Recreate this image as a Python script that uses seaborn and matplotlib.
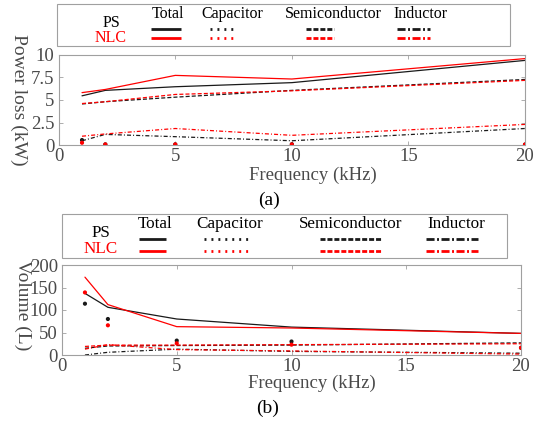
import matplotlib
matplotlib.use("Agg")
import matplotlib.pyplot as plt
import pandas as pd
import seaborn as sns
from matplotlib.patches import Rectangle

# ---- data -------------------------------------------------------------
freq_khz = [1, 2, 5, 10, 20]

# (a) power loss, kW
loss_total_ps = [5.45, 6.05, 6.45, 6.9, 9.35]
loss_total_nlc = [5.8, 6.15, 7.7, 7.3, 9.55]
loss_cap_ps = [0.58, 0.1, 0.1, 0.12, 0.08]
loss_cap_nlc = [0.28, 0.1, 0.1, 0.1, 0.08]
loss_semi_ps = [4.55, 4.8, 5.3, 6.05, 7.25]
loss_semi_nlc = [4.6, 4.8, 5.6, 6.0, 7.15]
loss_ind_ps = [0.5, 1.2, 0.95, 0.5, 1.85]
loss_ind_nlc = [1.0, 1.25, 1.85, 1.1, 2.3]

# (b) volume, L
vol_total_ps = [137, 106, 80, 62, 48]
vol_total_nlc = [173, 112, 63, 60, 48]
vol_cap_ps = [114, 80, 32, 30, 16]
vol_cap_nlc = [139, 66, 26, 23, 16]
vol_semi_ps = [15, 20, 21, 22, 27]
vol_semi_nlc = [19, 22, 22, 23, 25]
vol_ind_ps = [0, 6, 13, 8, 4]
vol_ind_nlc = [13, 23, 12, 9, 2]

systems = ["PS", "NLC"]
components = ["Total", "Capacitor", "Semiconductor", "Inductor"]
x_ticks = [0, 5, 10, 15, 20]
loss_ticks = [0, 2.5, 5, 7.5, 10]
loss_tick_labels = ["0", "2.5", "5", "7.5", "10"]
vol_ticks = [0, 50, 100, 150, 200]

# ---- styling ----------------------------------------------------------
sns.set_theme(style="ticks")
plt.rcParams["font.family"] = ["Liberation Serif", "DejaVu Serif"]
plt.rcParams["lines.scale_dashes"] = False

BLACK = "#1a1a1a"
RED = "#ff0000"
GRAY_SPINE = "#a0a0a0"
GRAY_TEXT = "#4a4a4a"
palette = {"PS": BLACK, "NLC": RED}
dash_map = {"Total": "", "Semiconductor": (2.9, 1.5), "Inductor": (2.9, 1.5, 0.7, 1.5)}

W, H = 538, 425
fig = plt.figure(figsize=(W / 100, H / 100), dpi=100)


def px_axes(left, top, right, bottom):
    return fig.add_axes([left / W, 1 - bottom / H, (right - left) / W, (bottom - top) / H])


def long_table(series):
    rows = []
    for (system, comp), vals in series.items():
        for f, v in zip(freq_khz, vals):
            rows.append({"freq": f, "value": v, "system": system, "component": comp})
    return pd.DataFrame(rows)


def draw_panel(ax, series, yticks, yticklabels, ymax, ylabel, ylabel_y, xlabel_y):
    df = long_table(series)
    lines = df[df["component"] != "Capacitor"]
    sns.lineplot(data=lines, x="freq", y="value", hue="system", style="component",
                 palette=palette, dashes=dash_map, hue_order=systems,
                 style_order=["Total", "Semiconductor", "Inductor"],
                 linewidth=0.9, legend=False, ax=ax, estimator=None, sort=False)
    caps = df[df["component"] == "Capacitor"]
    sns.scatterplot(data=caps, x="freq", y="value", hue="system", palette=palette,
                    hue_order=systems, s=9, linewidth=0, legend=False, ax=ax, zorder=5)
    ax.set_xlim(0, 20)
    ax.set_ylim(0, ymax)
    ax.set_xticks(x_ticks)
    ax.set_yticks(yticks)
    ax.set_yticklabels(yticklabels)
    ax.tick_params(direction="in", length=3, width=0.6, color=GRAY_SPINE,
                   labelcolor=GRAY_TEXT, labelsize=13.5, top=True, right=True)
    ax.tick_params(axis="x", pad=2)
    ax.tick_params(axis="y", pad=3)
    for sp in ax.spines.values():
        sp.set_visible(True)
        sp.set_color(GRAY_SPINE)
        sp.set_linewidth(0.8)
    ax.set_xlabel("Frequency (kHz)", fontsize=13.5, color=GRAY_TEXT)
    ax.xaxis.set_label_coords(0.545, xlabel_y)
    ax.xaxis.label.set_va("center")
    ax.set_ylabel(ylabel, fontsize=14, color=GRAY_TEXT, rotation=270)
    ax.yaxis.label.set_va("center")
    ax.yaxis.label.set_ha("center")
    ax.yaxis.set_label_coords(-0.085, ylabel_y)


ax_a = px_axes(58.7, 54.5, 525, 145.3)
draw_panel(ax_a, {
    ("PS", "Total"): loss_total_ps, ("NLC", "Total"): loss_total_nlc,
    ("PS", "Capacitor"): loss_cap_ps, ("NLC", "Capacitor"): loss_cap_nlc,
    ("PS", "Semiconductor"): loss_semi_ps, ("NLC", "Semiconductor"): loss_semi_nlc,
    ("PS", "Inductor"): loss_ind_ps, ("NLC", "Inductor"): loss_ind_nlc,
}, loss_ticks, loss_tick_labels, 10, "Power loss (kW)", 0.5, -0.33)

ax_b = px_axes(62, 265, 521, 355)
draw_panel(ax_b, {
    ("PS", "Total"): vol_total_ps, ("NLC", "Total"): vol_total_nlc,
    ("PS", "Capacitor"): vol_cap_ps, ("NLC", "Capacitor"): vol_cap_nlc,
    ("PS", "Semiconductor"): vol_semi_ps, ("NLC", "Semiconductor"): vol_semi_nlc,
    ("PS", "Inductor"): vol_ind_ps, ("NLC", "Inductor"): vol_ind_nlc,
}, vol_ticks, [str(t) for t in vol_ticks], 200, "Volume (L)", 0.55, -0.32)

fig.text(269 / W, 1 - 200 / H, "(a)", ha="center", va="center", fontsize=14, color="black")
fig.text(268 / W, 1 - 408 / H, "(b)", ha="center", va="center", fontsize=14, color="black")

# ---- legend boxes (PS / NLC rows, one column per component) ------------
overlay = fig.add_axes([0, 0, 1, 1], zorder=10)
overlay.set_xlim(0, W)
overlay.set_ylim(H, 0)
overlay.axis("off")

glyph_style = {
    "Total": dict(linestyle="-"),
    "Capacitor": dict(dashes=(1.4, 3.6)),
    "Semiconductor": dict(dashes=(3.6, 1.4)),
    "Inductor": dict(dashes=(5.8, 1.8, 1.4, 1.8)),
}


def legend_box(box, label_x, label_rows, header_y, row_y, columns, fs):
    l, t, r, b = box
    overlay.add_patch(Rectangle((l, t), r - l, b - t, fill=False,
                                edgecolor=GRAY_SPINE, linewidth=0.8))
    overlay.text(label_x, label_rows[0], "PS", ha="center", va="center",
                 fontsize=fs, color="black")
    overlay.text(label_x, label_rows[1], "NLC", ha="center", va="center",
                 fontsize=fs, color=RED)
    for comp, (x0, x1, xc) in zip(components, columns):
        overlay.text(xc, header_y, comp, ha="center", va="center", fontsize=fs,
                     color="black")
        for y, col in zip(row_y, [BLACK, RED]):
            overlay.plot([x0, x1], [y, y], color=col, linewidth=2.0,
                         solid_capstyle="butt", dash_capstyle="butt",
                         **glyph_style[comp])


legend_box((57, 4, 510, 46), 111, (23, 38), 14, (29, 38),
           [(151, 181, 168), (210, 236, 232), (306, 334, 333), (397, 430, 421)], 11.5)
legend_box((62, 214, 507, 258), 101, (233, 249), 224, (239, 251),
           [(139, 166, 155), (204, 250, 230), (320, 382, 351), (426, 478, 456)], 12.3)

fig.savefig("out.png", dpi=100)
